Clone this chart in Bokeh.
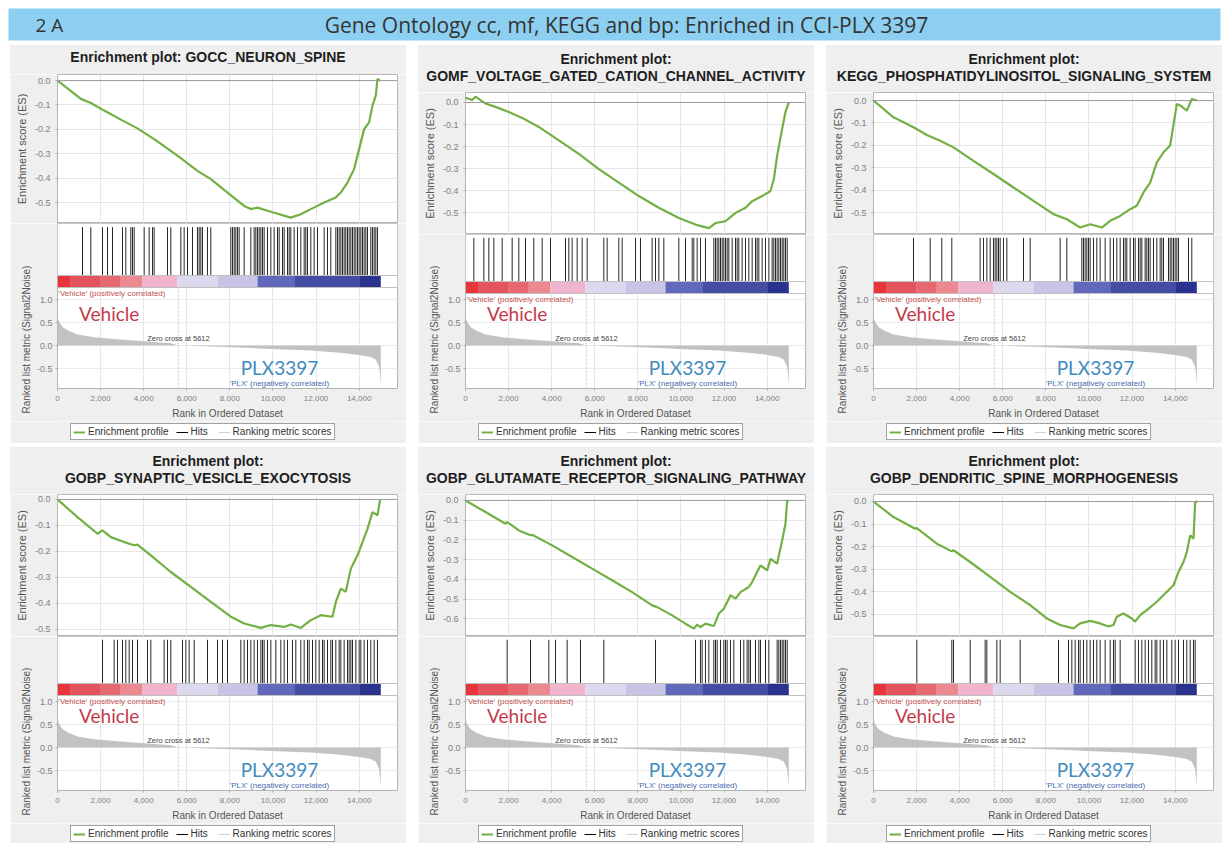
from bokeh.plotting import figure
from bokeh.layouts import column, row, Spacer
from bokeh.models import (Range1d, SingleIntervalTicker, FixedTicker, PrintfTickFormatter,
                          NumeralTickFormatter, Span, Label, Title, Legend, LegendItem, Div)
from bokeh.embed import file_html
from bokeh.resources import INLINE

# ---------------- data ----------------
HEADER_LEFT = "2 A"
HEADER_TITLE = "Gene Ontology cc, mf, KEGG and bp: Enriched in CCI-PLX 3397"
ZERO_CROSS = 5612
X_TICKS_STEP = 2000

metric_rank = [0, 77, 232, 464, 928, 1702, 2475, 4022, 5260, 5612, 7116, 8663, 10210, 11757,
               12995, 13923, 14542, 14774, 14929, 15005]
metric_val = [0.65, 0.51, 0.40, 0.33, 0.24, 0.18, 0.145, 0.094, 0.05, 0.0, -0.022, -0.05, -0.08,
              -0.11, -0.15, -0.20, -0.25, -0.31, -0.47, -0.83]

bar_edges = [0, 619, 2011, 2939, 3945, 5569, 7425, 9282, 10984, 14000, 15005]
bar_colors = ["#e8343c", "#e4545c", "#e66870", "#ec8890", "#f0b4cc", "#dcd8ee", "#c8c4e6",
              "#6268ba", "#454ca4", "#2a3290"]

es1_rank = [0, 1083, 1547, 2166, 2939, 3712, 4486, 5568, 6497, 7115, 7889, 8662, 8971, 9281, 9899,
            10827, 11291, 11756, 12374, 12915, 13148, 13457, 13766, 13998, 14230, 14462, 14617,
            14772, 14849, 14973]
es1_score = [0.0, -0.075, -0.092, -0.123, -0.160, -0.196, -0.240, -0.308, -0.370, -0.404, -0.459,
             -0.514, -0.527, -0.521, -0.538, -0.562, -0.548, -0.527, -0.500, -0.479, -0.459, -0.418,
             -0.363, -0.281, -0.199, -0.171, -0.103, -0.062, 0.007, 0.0]
hits1 = [1160, 1547, 2088, 2320, 2553, 3017, 3171, 3403, 3480, 3558, 4022, 4254, 4409, 4486, 5105,
         5260, 5724, 5878, 6033, 6265, 6497, 6575, 6652, 6729, 6961, 7116, 8044, 8121, 8199, 8276,
         8354, 8431, 8663, 8973, 9127, 9205, 9282, 9359, 9437, 9514, 9591, 9746, 9901, 10055, 10210,
         10288, 10442, 10520, 10674, 10752, 10829, 10984, 11138, 11293, 11448, 11525, 11603, 11757,
         11912, 12067, 12376, 12531, 12685, 12917, 12995, 13072, 13150, 13227, 13304, 13381, 13459,
         13536, 13614, 13691, 13768, 13846, 13923, 14000, 14078, 14155, 14232, 14310, 14387, 14542,
         14619, 14697, 14774, 14851]

es2_rank = [0, 309, 464, 928, 1392, 2011, 2630, 3403, 4332, 5260, 6188, 7116, 8044, 8973, 9901,
            10674, 11293, 11603, 12067, 12531, 12995, 13304, 13768, 14155, 14310, 14464, 14697,
            14851, 15005]
es2_score = [0.021, 0.011, 0.026, -0.005, -0.02, -0.043, -0.07, -0.111, -0.172, -0.233, -0.302,
             -0.363, -0.424, -0.477, -0.523, -0.553, -0.569, -0.546, -0.538, -0.5, -0.477, -0.447,
             -0.424, -0.401, -0.348, -0.241, -0.119, -0.043, 0.0]
hits2 = [387, 851, 1083, 1315, 1702, 2166, 2475, 2785, 3171, 3558, 3945, 4641, 4796, 4950, 5182,
         5415, 5647, 6420, 6575, 7116, 7271, 7890, 8122, 8663, 8818, 8973, 9205, 9901, 10210, 10520,
         10597, 10752, 10906, 11138, 11525, 11603, 11680, 11757, 11835, 11912, 11989, 12067, 12144,
         12221, 12376, 12531, 12608, 12685, 12840, 12995, 13150, 13304, 13459, 13536, 13614, 13768,
         13923, 14078, 14232, 14310, 14387, 14464, 14542, 14619, 14697, 14774, 14851, 14929]

es3_rank = [0, 928, 1856, 2475, 3094, 3712, 4641, 5569, 6497, 7425, 8353, 8973, 9591, 10055,
            10597, 10984, 11448, 11912, 12221, 12531, 12840, 13150, 13459, 13768, 14078, 14232,
            14542, 14774, 15005]
es3_score = [0.0, -0.075, -0.119, -0.154, -0.179, -0.209, -0.269, -0.328, -0.388, -0.448, -0.507,
             -0.530, -0.567, -0.552, -0.567, -0.537, -0.515, -0.485, -0.470, -0.410, -0.366,
             -0.276, -0.231, -0.201, -0.015, -0.022, -0.045, 0.007, 0.0]
hits3 = [1856, 2630, 3171, 3635, 4950, 5105, 5260, 5415, 5569, 5647, 5724, 5801, 5879, 6033, 6188,
         6962, 7271, 8663, 8973, 9669, 9746, 9823, 9901, 9978, 10055, 10210, 10365, 10520, 10752,
         10984, 11138, 11293, 11448, 11603, 11680, 11757, 11912, 12067, 12144, 12299, 12376, 12453,
         12608, 12685, 12763, 12840, 12995, 13150, 13304, 13381, 13459, 13691, 13768, 13846, 13923,
         14000, 14078, 14155, 14619, 14774]

es4_rank = [0, 928, 1856, 2088, 2475, 3094, 3558, 3712, 4332, 5260, 6188, 7116, 8044, 8663, 9437,
            9901, 10520, 10829, 11293, 11757, 12221, 12763, 12918, 13150, 13381, 13614, 13923,
            14155, 14387, 14619, 14851, 14974]
es4_score = [0.0, -0.068, -0.132, -0.119, -0.145, -0.164, -0.176, -0.174, -0.215, -0.279, -0.336,
             -0.394, -0.451, -0.477, -0.494, -0.483, -0.490, -0.481, -0.494, -0.464, -0.445, -0.451,
             -0.394, -0.343, -0.355, -0.266, -0.215, -0.164, -0.113, -0.049, -0.061, 0.0]
hits4 = [2088, 2630, 2785, 3017, 3171, 3326, 3481, 3713, 4177, 4332, 4950, 5105, 5260, 5801, 5956,
         6111, 6343, 6962, 7426, 7658, 7890, 8509, 8663, 8818, 8973, 9127, 9282, 9437, 9514, 9591,
         9746, 9901, 10133, 10365, 10520, 10674, 10906, 11061, 11293, 11448, 11603, 11680, 11835,
         11989, 12144, 12299, 12376, 12531, 12685, 12763, 12917, 13072, 13150, 13304, 13459, 13536,
         13614, 13691, 13846, 14000, 14078, 14232, 14387, 14542, 14697, 14851]

es5_rank = [0, 928, 1856, 1934, 2475, 3017, 3094, 4022, 4950, 5878, 6806, 7734, 8663, 8895, 9591,
            10210, 10597, 10752, 10906, 11138, 11525, 11757, 11989, 12299, 12531, 12763, 13150,
            13304, 13691, 14000, 14155, 14464, 14542, 14697, 14851, 14929, 15005]
es5_score = [0.0, -0.059, -0.118, -0.110, -0.152, -0.177, -0.174, -0.228, -0.287, -0.346, -0.405,
             -0.465, -0.532, -0.541, -0.583, -0.625, -0.650, -0.630, -0.642, -0.625, -0.637, -0.574,
             -0.549, -0.481, -0.498, -0.465, -0.439, -0.414, -0.329, -0.355, -0.296, -0.321, -0.279,
             -0.203, -0.118, 0.0, -0.005]
hits5 = [1934, 3017, 3868, 4177, 4718, 5337, 6420, 8818, 10674, 10906, 10984, 11138, 11293, 11525,
         11603, 11680, 11835, 11989, 12067, 12144, 12299, 12453, 12763, 12917, 13072, 13150, 13227,
         13459, 13614, 13691, 13923, 14078, 14464, 14542, 14619, 14697, 14774, 14851, 14929]

es6_rank = [0, 928, 1934, 2011, 2939, 3635, 3713, 4486, 5415, 6343, 7271, 8044, 8663, 9282, 9591,
            10055, 10520, 10906, 11138, 11293, 11603, 11989, 12144, 12376, 12685, 13150, 13614,
            13923, 14155, 14387, 14542, 14697, 14851, 14929, 15036]
es6_score = [0.0, -0.069, -0.121, -0.118, -0.187, -0.221, -0.216, -0.268, -0.334, -0.400, -0.459,
             -0.518, -0.547, -0.562, -0.540, -0.529, -0.540, -0.554, -0.547, -0.510, -0.496, -0.518,
             -0.532, -0.503, -0.481, -0.444, -0.400, -0.371, -0.312, -0.268, -0.224, -0.150, -0.165,
             -0.003, 0.0]
hits6 = [2011, 3635, 3713, 4486, 5182, 5260, 5724, 5879, 6807, 8586, 9050, 9205, 9359, 9514, 9591,
         9746, 9901, 10055, 10210, 10365, 10520, 10752, 10984, 11138, 11216, 11448, 12144, 12299,
         12453, 12608, 12763, 12917, 13072, 13150, 13304, 13459, 13614, 13846, 14000, 14155, 14387,
         14542, 14697, 14851, 14929]

panels = [
    dict(title=["Enrichment plot: GOCC_NEURON_SPINE"], rank=es1_rank, es=es1_score, hits=hits1,
         yr=(-0.586, 0.025)),
    dict(title=["Enrichment plot:", "GOMF_VOLTAGE_GATED_CATION_CHANNEL_ACTIVITY"], rank=es2_rank,
         es=es2_score, hits=hits2, yr=(-0.598, 0.045)),
    dict(title=["Enrichment plot:", "KEGG_PHOSPHATIDYLINOSITOL_SIGNALING_SYSTEM"], rank=es3_rank,
         es=es3_score, hits=hits3, yr=(-0.598, 0.036)),
    dict(title=["Enrichment plot:", "GOBP_SYNAPTIC_VESICLE_EXOCYTOSIS"], rank=es4_rank,
         es=es4_score, hits=hits4, yr=(-0.527, 0.019)),
    dict(title=["Enrichment plot:", "GOBP_GLUTAMATE_RECEPTOR_SIGNALING_PATHWAY"], rank=es5_rank,
         es=es5_score, hits=hits5, yr=(-0.69, 0.03)),
    dict(title=["Enrichment plot:", "GOBP_DENDRITIC_SPINE_MORPHOGENESIS"], rank=es6_rank,
         es=es6_score, hits=hits6, yr=(-0.598, 0.031)),
]

# ---------------- style ----------------
FONT = "Liberation Sans"
GREEN = "#72b043"
PANEL_BG = "#efefef"
PW = 396
X_END = 15780
FRAME_LEFT = 47
FRAME_W = 340


def style_axis(ax, tick_size="8px", label_size="10px"):
    ax.major_label_text_font = FONT
    ax.major_label_text_font_size = tick_size
    ax.major_label_text_color = "#808080"
    ax.axis_line_color = None
    ax.major_tick_line_color = "#aaaaaa"
    ax.major_tick_out = 2
    ax.major_tick_in = 0
    ax.minor_tick_line_color = None
    ax.major_label_standoff = 3
    ax.axis_label_text_font = FONT
    ax.axis_label_text_font_size = label_size
    ax.axis_label_text_font_style = "normal"
    ax.axis_label_text_color = "#555555"
    ax.axis_label_standoff = 4


def base_fig(height, x_range, y_range, top, bottom, **kw):
    return figure(width=PW, height=height, x_range=x_range, y_range=y_range, title=None,
                  output_backend="svg", toolbar_location=None, min_border_left=FRAME_LEFT,
                  min_border_right=PW - FRAME_LEFT - FRAME_W, min_border_top=top,
                  min_border_bottom=bottom, border_fill_color=PANEL_BG, **kw)


def make_panel(cfg, row_h):
    one = len(cfg["title"]) == 1
    es_top = 29 if one else 47
    es_bottom = 178 if one else 189
    hits_h = 52 if one else 47
    bar_h = 12
    frame_bottom = 343
    axis_bottom = 376
    Hf = frame_bottom - es_bottom
    bar_top_px = Hf - hits_h
    bar_bot_px = bar_top_px - bar_h
    zero_px = 43
    ppu = 46.0

    xr = Range1d(0, X_END)

    # ---- title strip ----
    tf = Div(text="<br>".join(cfg["title"]), width=PW, height=es_top, margin=(0, 0, 0, 0),
             styles={"background-color": PANEL_BG, "font-family": FONT, "font-weight": "bold",
                     "font-size": "14px", "line-height": "17px", "text-align": "center",
                     "color": "#1e1e1e", "white-space": "nowrap", "box-sizing": "border-box",
                     "padding-top": "4px" if one else "6px", "overflow": "hidden"})

    # ---- enrichment score plot ----
    es = base_fig(es_bottom - es_top, xr, Range1d(*cfg["yr"]), 0, 0, x_axis_location=None,
                  background_fill_color="white", outline_line_color="#b5b5b5")
    es.yaxis.ticker = SingleIntervalTicker(interval=0.1)
    es.yaxis.formatter = PrintfTickFormatter(format="%.1f")
    es.yaxis.axis_label = "Enrichment score (ES)"
    style_axis(es.yaxis[0], tick_size="9px", label_size="11px")
    es.xgrid.ticker = SingleIntervalTicker(interval=X_TICKS_STEP)
    es.xgrid.grid_line_color = "#e6e6e6"
    es.ygrid.grid_line_color = "#e6e6e6"
    es.add_layout(Span(location=0, dimension="width", line_color="#9a9a9a", line_width=1))
    es.line(cfg["rank"], cfg["es"], line_color=GREEN, line_width=2.2)

    # ---- hits / colour bar / ranked metric ----
    y0 = -zero_px / ppu
    y1 = y0 + Hf / ppu
    metric_top = y0 + bar_bot_px / ppu
    lo = base_fig(axis_bottom - es_bottom, xr, Range1d(y0, y1), 0, axis_bottom - frame_bottom,
                  background_fill_color="white", outline_line_color="#b5b5b5")
    lo.extra_y_ranges = {
        "hits": Range1d(-bar_top_px / hits_h, 1.0),
        "bar": Range1d(-bar_bot_px / bar_h, 1.0 + (Hf - bar_top_px) / bar_h),
    }
    lo.xaxis.ticker = SingleIntervalTicker(interval=X_TICKS_STEP)
    lo.xaxis.formatter = NumeralTickFormatter(format="0,0")
    lo.xaxis.axis_label = "Rank in Ordered Dataset"
    style_axis(lo.xaxis[0], tick_size="8px", label_size="10px")
    lo.yaxis.ticker = FixedTicker(ticks=[-0.5, 0.0, 0.5, 1.0])
    lo.yaxis.formatter = PrintfTickFormatter(format="%.1f")
    style_axis(lo.yaxis[0], tick_size="9px")
    lo.add_layout(Title(text="Ranked list metric (Signal2Noise)", align="left", offset=-25,
                        standoff=4, text_font=FONT, text_font_size="10px",
                        text_font_style="normal", text_color="#555555"), "left")
    lo.xgrid.grid_line_color = "#e6e6e6"
    lo.ygrid.ticker = FixedTicker(ticks=[-0.5, 0.0, 0.5, 1.0])
    lo.ygrid.grid_line_color = "#ececec"

    bar_rng = lo.extra_y_ranges["bar"]
    lo.quad(left=[xr.start], right=[xr.end], bottom=[0], top=[bar_rng.end], y_range_name="bar",
            fill_color="white", line_color=None)
    lo.segment(x0=cfg["hits"], x1=cfg["hits"], y0=0.0, y1=0.93, y_range_name="hits",
               line_color="black", line_width=1, line_alpha=0.85)
    lo.quad(left=bar_edges[:-1], right=bar_edges[1:], bottom=0, top=1, fill_color=bar_colors,
            line_color=None, y_range_name="bar")
    lo.add_layout(Span(location=1, dimension="width", y_range_name="bar", line_color="#c0c0c0",
                       line_width=1))
    lo.add_layout(Span(location=0, dimension="width", y_range_name="bar", line_color="#c0c0c0",
                       line_width=1))

    lo.varea(x=metric_rank, y1=0, y2=metric_val, fill_color="#c2c2c2")
    lo.segment(x0=[ZERO_CROSS], x1=[ZERO_CROSS], y0=[y0], y1=[metric_top], line_color="#c8c8c8",
               line_dash="2 2", line_width=1)

    lo.add_layout(Label(x=40, y=metric_top, y_offset=-1, text="'Vehicle' (positively correlated)",
                        text_font=FONT, text_font_size="8px", text_color="#c0504d",
                        text_baseline="top", text_align="left"))
    lo.add_layout(Label(x=2400, y=0.70, text="Vehicle", text_font="Lato", text_font_size="19px",
                        text_color="#c23a4b", text_align="center", text_baseline="middle"))
    lo.add_layout(Label(x=ZERO_CROSS, y=0.02, y_offset=2, text="Zero cross at " + str(ZERO_CROSS),
                        text_font=FONT, text_font_size="7.5px", text_color="#444444",
                        text_align="center", text_baseline="bottom"))
    lo.add_layout(Label(x=10300, y=-0.48, text="PLX3397", text_font="Lato", text_font_size="19px",
                        text_color="#3f8cc0", text_align="center", text_baseline="middle"))
    lo.add_layout(Label(x=10300, y=-0.83, text="'PLX' (negatively correlated)", text_font=FONT,
                        text_font_size="8px", text_color="#4a6aae", text_align="center",
                        text_baseline="middle"))

    # ---- legend strip (series drawn off-range; only their legend swatches show) ----
    lg_h = row_h - axis_bottom
    lg = base_fig(lg_h, Range1d(0, 1), Range1d(5, 6), 0, 0,
                  x_axis_location=None, y_axis_location=None, background_fill_color=PANEL_BG,
                  outline_line_color=None)
    lg.grid.visible = False
    r_es = lg.line(x=cfg["rank"], y=cfg["es"], line_color=GREEN, line_width=2)
    r_hit = lg.line(x=cfg["hits"], y=[0.0] * len(cfg["hits"]), line_color="black", line_width=1)
    r_met = lg.line(x=metric_rank, y=metric_val, line_color="#d0d0d0", line_width=1)
    legend = Legend(items=[LegendItem(label="Enrichment profile", renderers=[r_es]),
                           LegendItem(label="Hits", renderers=[r_hit]),
                           LegendItem(label="Ranking metric scores", renderers=[r_met])],
                    orientation="horizontal", location=(13, lg_h - 19),
                    border_line_color="#444444", border_line_width=1,
                    background_fill_color="white", background_fill_alpha=1,
                    label_text_font=FONT, label_text_font_size="10px", label_text_color="#333333",
                    padding=2, margin=0, spacing=7, label_standoff=3, glyph_width=12,
                    glyph_height=10, label_height=11)
    lg.add_layout(legend)
    return column(tf, es, lo, lg, spacing=0)


# ---------------- header ----------------
hdr = figure(width=1227, height=45, x_range=Range1d(0, 1), y_range=Range1d(0, 1),
             x_axis_location=None, y_axis_location=None, output_backend="svg",
             toolbar_location=None, min_border_left=8, min_border_right=7, min_border_top=8,
             min_border_bottom=5, background_fill_color="#8dcff0", border_fill_color="white",
             outline_line_color=None, title=None)
hdr.grid.visible = False
hdr.add_layout(Label(x=27, y=16, x_units="screen", y_units="screen", text=HEADER_LEFT,
                     text_font="Open Sans", text_font_size="19px", text_color="#333333",
                     text_baseline="middle", text_align="left"))
hdr.add_layout(Label(x=618, y=16, x_units="screen", y_units="screen", text=HEADER_TITLE,
                     text_font="Open Sans", text_font_size="21px", text_color="#333333",
                     text_baseline="middle", text_align="center"))

row1 = row(Spacer(width=10), make_panel(panels[0], 398), Spacer(width=12),
           make_panel(panels[1], 398), Spacer(width=12), make_panel(panels[2], 398), spacing=0)
row2 = row(Spacer(width=10), make_panel(panels[3], 396), Spacer(width=12),
           make_panel(panels[4], 396), Spacer(width=12), make_panel(panels[5], 396), spacing=0)
layout = column(hdr, row1, Spacer(height=4), row2, spacing=0)

open("out.html", "w").write(file_html(layout, INLINE))
